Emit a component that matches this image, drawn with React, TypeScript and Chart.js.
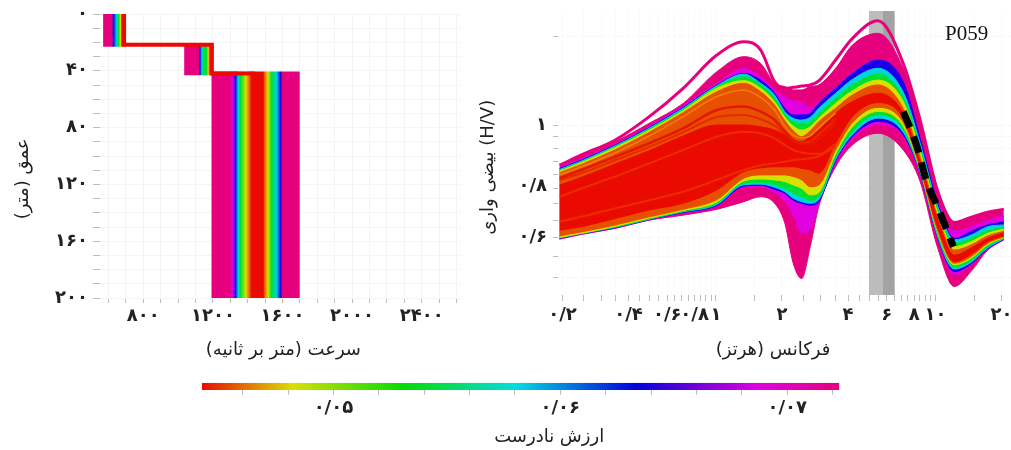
import React, { useEffect, useRef } from "react";
import { Chart, registerables } from "chart.js";

Chart.register(...registerables);

const FONT = '"DejaVu Sans", sans-serif';
const INK = "#222222";
const TICK = "#bdbdbd";
const GRID = "#f4f4f4";

// ---- velocity profile (left)
const velocityTicks = [600, 700, 800, 900, 1000, 1100, 1200, 1300, 1400, 1500, 1600, 1700, 1800, 1900, 2000, 2100, 2200, 2300, 2400, 2500, 2600];
const velocityLabels: Record<number, string> = { 800: "۸۰۰", 1200: "۱۲۰۰", 1600: "۱۶۰۰", 2000: "۲۰۰۰", 2400: "۲۴۰۰" };
const depthTicks = [0, 10, 20, 30, 40, 50, 60, 70, 80, 90, 100, 110, 120, 130, 140, 150, 160, 170, 180, 190, 200];
const depthLabels: Record<number, string> = { 0: "۰", 40: "۴۰", 80: "۸۰", 120: "۱۲۰", 160: "۱۶۰", 200: "۲۰۰" };

const RED = "#ea0a00";
const ORANGE = "#ee6a00";
const YELLOW = "#d8e000";
const GREEN = "#00e030";
const CYAN = "#00d4dc";
const BLUE = "#1a00ea";
const MAGENTA = "#e000e0";
const PINK = "#e6007e";

const layer1Depth = [0, 23];
const layer1Velocity = [569, 619, 628, 647, 657, 670, 676, 701];
const layer1Colors = [PINK, PINK, BLUE, CYAN, GREEN, YELLOW, RED, RED];
const layer2Depth = [22, 43.2];
const layer2Velocity = [1035, 1121, 1125, 1137, 1148, 1164, 1173, 1183, 1198];
const layer2Colors = [PINK, PINK, BLUE, CYAN, GREEN, GREEN, YELLOW, RED, RED];
const layer3Depth = [40.5, 200];
const layer3Velocity = [1192, 1298, 1313, 1330, 1345, 1359, 1389, 1408, 1422, 1489, 1498, 1517, 1536, 1565, 1590, 1600, 1699];
const layer3Colors = [PINK, PINK, MAGENTA, BLUE, CYAN, GREEN, YELLOW, ORANGE, RED, RED, ORANGE, YELLOW, GREEN, CYAN, BLUE, PINK, PINK];
const bestVelocity = [697, 697, 1194, 1194, 1440];
const bestDepth = [21.6, 21.6, 21.6, 41.9, 41.9];

// ---- H/V curves (right)
const freq = [0.194, 0.244, 0.348, 0.497, 0.709, 1.01, 1.34, 1.6, 1.85, 2.06, 2.25, 2.46, 2.69, 2.94, 3.51, 4.19, 5.47, 7.14, 8.52, 10.2, 12.2, 14.5, 17.3, 20.5];
const pinkUp = [.835, .875, .93, 1.011, 1.107, 1.279, 1.37, 1.328, 1.213, 1.195, 1.177, 1.177, 1.195, 1.204, 1.299, 1.445, 1.524, 1.299, 1.018, .74, .641, .655, .671, .681];
const magentaUp = [.829, .86, .92, .998, 1.094, 1.213, 1.299, 1.25, 1.177, 1.14, 1.12, 1.115, 1.085, 1.115, 1.19, 1.275, 1.351, 1.225, .946, .71, .619, .631, .65, .662];
const blueUp = [.823, .855, .916, .992, 1.087, 1.204, 1.269, 1.231, 1.159, 1.082, 1.05, 1.05, 1.058, 1.107, 1.186, 1.269, 1.349, 1.222, .944, .707, .598, .617, .636, .645];
const cyanUp = [.819, .851, .912, .988, 1.082, 1.2, 1.265, 1.213, 1.15, 1.066, 1.034, 1.026, 1.039, 1.082, 1.159, 1.235, 1.299, 1.164, .923, .696, .594, .607, .631, .636];
const greenUp = [.817, .848, .909, .985, 1.077, 1.195, 1.25, 1.204, 1.133, 1.055, 1.018, 1.011, 1.018, 1.058, 1.133, 1.204, 1.265, 1.138, .906, .686, .585, .598, .619, .629];
const yellowUp = [.813, .845, .905, .979, 1.071, 1.187, 1.228, 1.186, 1.116, 1.039, .998, .98, .995, 1.034, 1.107, 1.173, 1.231, 1.116, .888, .676, .576, .589, .612, .624];
const orangeUp = [.807, .838, .896, .97, 1.061, 1.167, 1.213, 1.167, 1.099, 1.023, .977, .951, .977, 1.018, 1.082, 1.15, 1.204, 1.082, .868, .665, .567, .58, .605, .618];
const redUp = [.763, .79, .84, .892, .954, 1.003, 1.003, .995, .98, .958, .937, .93, .951, .98, 1.058, 1.116, 1.159, 1.058, .848, .655, .554, .572, .598, .614];
const pinkLow = [.596, .609, .626, .65, .665, .683, .707, .723, .702, .641, .534, .498, .576, .691, .829, .916, .966, .895, .775, .576, .48, .514, .567, .594];
const magentaLow = [.597, .61, .627, .651, .671, .693, .755, .755, .737, .707, .665, .612, .621, .699, .842, .939, 1.008, .951, .802, .601, .506, .53, .569, .595];
const blueLow = [.598, .611, .628, .652, .673, .695, .759, .762, .748, .735, .712, .702, .696, .707, .852, .951, 1.02, .958, .807, .603, .514, .532, .571, .596];
const cyanLow = [.599, .612, .629, .653, .675, .698, .764, .766, .755, .74, .718, .707, .702, .714, .858, .961, 1.035, .97, .811, .607, .52, .536, .573, .597];
const greenLow = [.6, .613, .63, .654, .677, .702, .77, .773, .763, .751, .735, .723, .712, .723, .866, .973, 1.051, .983, .815, .612, .525, .54, .577, .599];
const yellowLow = [.601, .612, .632, .656, .679, .706, .777, .784, .781, .775, .763, .751, .729, .737, .879, .995, 1.067, .998, .819, .618, .53, .546, .581, .601];
const orangeLow = [.605, .616, .636, .66, .683, .714, .787, .799, .799, .799, .793, .781, .757, .763, .895, 1.014, 1.087, 1.014, .824, .623, .534, .55, .585, .603];
const redLow = [.621, .631, .655, .681, .702, .746, .811, .825, .829, .829, .829, .823, .817, .805, .923, 1.042, 1.111, 1.034, .832, .631, .538, .556, .589, .605];
const outlierCurve = [.835, .875, .937, 1.042, 1.186, 1.38, 1.467, 1.412, 1.222, 1.186, 1.191, 1.198, 1.204, 1.226, 1.349, 1.489, 1.614, 1.328, 1.026, .746, .643, .658, .674, .683];
const streakA = [.646, .66, .686, .712, .74, .781, .817, .835, .842, .848, .855, .858, .862, .87, .91];
const streakB = [.723, .751, .793, .842, .895, .951, .973, .966, .944, .916, .895, .885, .88, .88, .92];
const streakC = [.787, .817, .868, .923, .988, 1.074, 1.091, 1.066, 1.026, .973, .937, .92, .92, .94, 1.01];
const streakD = [.799, .829, .884, .954, 1.042, 1.142, 1.177, 1.138, 1.074, .998, .958, .945, .955, .99, 1.06];
const streakE = [.78, .805, .855, .908, .97, 1.04, 1.05, 1.03, 1.0, .965, .935, .925, .93, .96, 1.03];
const targetFreq = [7.14, 8.2, 9.12, 10.29, 12.08];
const targetHV = [1.066, .916, .775, .686, .576];
const lightBand = [4.98, 6.51];
const darkBand = [5.77, 6.51];
const freqTicks = [.2, .25, .3, .35, .4, .45, .5, .55, .6, .65, .7, .75, .8, .85, .9, .95, 1, 1.5, 2, 2.5, 3, 3.5, 4, 4.5, 5, 5.5, 6, 6.5, 7, 7.5, 8, 8.5, 9, 9.5, 10, 15, 20];
const freqLabels: Record<string, string> = { "0.2": "۰/۲", "0.4": "۰/۴", "0.6": "۰/۶", "0.8": "۰/۸", "1": "۱", "2": "۲", "4": "۴", "6": "۶", "8": "۸", "10": "۱۰", "20": "۲۰" };
const hvTicks = [1.5, 1, .95, .9, .85, .8, .76, .75, .7, .65, .6, .55, .5];
const hvLabels: Record<string, string> = { "1": "۱", "0.76": "۰/۸", "0.6": "۰/۶" };
const hvLabelOnly = 0.76;

// ---- colour bar
const misfitTicks = [.046, .048, .05, .052, .054, .056, .058, .06, .062, .064, .066, .068, .07, .072];
const misfitLabels: Record<string, string> = { "0.05": "۰/۰۵", "0.06": "۰/۰۶", "0.07": "۰/۰۷" };
const misfitStops = [.0442, .0482, .0531, .058, .0633, .0687, .0723];
const misfitColors = [RED, YELLOW, "#00dd00", "#00dde0", "#0000dd", "#e000e0", PINK];

const titleFont = { family: FONT, size: 18 };
const tickFont = { family: FONT, size: 18, weight: "bold" as const };
const NB = "\u00A0";
const RLM = "\u200F";

function gradientOf(stops: number[], colors: string[]) {
  return (ctx: any) => {
    const { chart } = ctx;
    const x = chart.scales?.x;
    if (!x || !chart.chartArea) return colors[0];
    const a = x.getPixelForValue(stops[0]);
    const b = x.getPixelForValue(stops[stops.length - 1]);
    const g = chart.ctx.createLinearGradient(a, 0, b, 0);
    stops.forEach((s, i) => g.addColorStop((x.getPixelForValue(s) - a) / (b - a), colors[i]));
    return g;
  };
}

function rect(x: number[], y: number[], backgroundColor: any) {
  return {
    type: "line" as const,
    data: [
      { x: x[0], y: y[0] }, { x: x[1], y: y[0] }, { x: x[1], y: y[1] }, { x: x[0], y: y[1] }, { x: x[0], y: y[0] },
    ],
    fill: "shape",
    backgroundColor,
    borderWidth: 0,
    pointRadius: 0,
    tension: 0,
  };
}

const curve = (values: number[], color: string, width: number, fill: any = false, xs: number[] = freq) => ({
  type: "line" as const,
  data: values.map((y, i) => ({ x: xs[i], y })),
  borderColor: color,
  backgroundColor: color,
  borderWidth: width,
  pointRadius: 0,
  cubicInterpolationMode: "monotone" as const,
  fill,
});

const levelRows: [number[], number[], string][] = [
  [redUp, redLow, RED],
  [orangeUp, orangeLow, "#e65000"],
  [yellowUp, yellowLow, YELLOW],
  [greenUp, greenLow, GREEN],
  [cyanUp, cyanLow, CYAN],
  [blueUp, blueLow, BLUE],
  [magentaUp, magentaLow, MAGENTA],
  [pinkUp, pinkLow, PINK],
];

const base: any = {
  responsive: false,
  animation: false,
  events: [],
  plugins: { legend: { display: false }, tooltip: { enabled: false } },
};

function makeTicks(list: number[]) {
  return (scale: any) => {
    scale.ticks = list.map((value) => ({ value }));
  };
}

const fixHeight = (h: number) => (s: any) => {
  s.height = h;
  s.paddingLeft = 0;
  s.paddingRight = 0;
};
const fixWidth = (w: number) => (s: any) => {
  s.width = w;
  s.paddingTop = 0;
  s.paddingBottom = 0;
};

function leftChart(c: HTMLCanvasElement) {
  return new Chart(c, {
    type: "line",
    data: {
      datasets: [
        { type: "line", data: bestVelocity.map((x, i) => ({ x, y: bestDepth[i] })), borderColor: RED, borderWidth: 4, pointRadius: 0, tension: 0, borderJoinStyle: "miter" } as any,
        rect([layer1Velocity[0], layer1Velocity[7]], layer1Depth, gradientOf(layer1Velocity, layer1Colors)) as any,
        rect([layer2Velocity[0], layer2Velocity[8]], layer2Depth, gradientOf(layer2Velocity, layer2Colors)) as any,
        rect([layer3Velocity[0], layer3Velocity[16]], layer3Depth, gradientOf(layer3Velocity, layer3Colors)) as any,
      ],
    },
    options: {
      ...base,
      layout: { padding: { top: 14, right: 19, left: 0, bottom: 0 } },
      scales: {
        x: {
          type: "linear", min: 551, max: 2626,
          afterBuildTicks: makeTicks(velocityTicks),
          afterFit: fixHeight(72),
          border: { display: false },
          grid: { color: GRID, tickColor: TICK, tickLength: 5 },
          ticks: { autoSkip: false, maxRotation: 0, color: INK, font: tickFont, padding: 3, callback: (v: any) => velocityLabels[v] ?? "" },
          title: { display: true, text: `${NB}${RLM}سرعت (متر بر ثانیه)${RLM}`, color: INK, font: titleFont, padding: { top: 0, bottom: 9 } },
        },
        y: {
          type: "linear", reverse: true, min: 0, max: 200,
          afterBuildTicks: makeTicks(depthTicks),
          afterFit: fixWidth(100),
          border: { display: false },
          grid: { color: GRID, tickColor: TICK, tickLength: 7 },
          ticks: { autoSkip: false, color: INK, font: tickFont, padding: 5, callback: (v: any) => depthLabels[v] ?? "" },
          title: { display: true, text: `${RLM}عمق (متر)${RLM}${NB}${NB}${NB}${NB}${NB}${NB}${NB}${NB}`, color: INK, font: titleFont, padding: { top: 13, bottom: 13 } },
        },
      },
    } as any,
  });
}

function rightChart(c: HTMLCanvasElement) {
  const datasets: any[] = [];
  const dash = curve(targetHV, "#000000", 7, false, targetFreq) as any;
  dash.borderDash = [17, 10];
  dash.borderCapStyle = "butt";
  datasets.push(dash);
  datasets.push(curve(streakD, "#ee8010", 1.5));
  datasets.push(curve(streakC, "#e41800", 2.5));
  datasets.push(curve(streakE, "#ea2800", 2));
  datasets.push(curve(streakB, "#ec2c00", 2));
  datasets.push(curve(streakA, "#ec2c00", 2));
  levelRows.forEach(([up, low, color]) => {
    datasets.push(curve(up, color, 1, "+1"));
    datasets.push(curve(low, color, 1));
  });
  datasets.push(curve(outlierCurve, PINK, 3));
  datasets.push(rect(darkBand, [0.462, 1.687], "#a3a3a3"));
  datasets.push(rect(lightBand, [0.462, 1.687], "#bcbcbc"));
  return new Chart(c, {
    type: "line",
    data: { datasets },
    options: {
      ...base,
      layout: { padding: { top: 11, right: 0, left: 0, bottom: 0 } },
      scales: {
        x: {
          type: "logarithmic", min: 0.1908, max: 22.1,
          afterBuildTicks: makeTicks(freqTicks),
          afterFit: fixHeight(75),
          border: { display: false },
          grid: { color: "#fafafa", tickColor: TICK, tickLength: 6 },
          ticks: { autoSkip: false, maxRotation: 0, minRotation: 0, color: INK, font: tickFont, padding: 4, callback: (v: any) => freqLabels[String(v)] ?? "" },
          title: { display: true, text: `${RLM}فرکانس (هرتز)${RLM}${NB}${NB}${NB}${NB}`, color: INK, font: titleFont, padding: { top: 0, bottom: 9 } },
        },
        y: {
          type: "logarithmic", min: 0.462, max: 1.687,
          afterBuildTicks: makeTicks(hvTicks),
          afterFit: fixWidth(88),
          border: { display: false },
          grid: {
            color: (ctx: any) => (ctx.tick?.value === hvLabelOnly ? "rgba(0,0,0,0)" : "#f8f8f8"),
            tickColor: (ctx: any) => (ctx.tick?.value === hvLabelOnly ? "rgba(0,0,0,0)" : TICK),
            tickLength: 5,
          },
          ticks: { autoSkip: false, color: INK, font: tickFont, padding: 6, callback: (v: any) => hvLabels[String(v)] ?? "" },
          title: { display: true, text: `${RLM}بیضی واری (H/V)${RLM}${NB}${NB}${NB}${NB}${NB}`, color: INK, font: titleFont, padding: { top: 8, bottom: 8 } },
        },
      },
    } as any,
  });
}

function barChart(c: HTMLCanvasElement) {
  return new Chart(c, {
    type: "line",
    data: { datasets: [rect([misfitStops[0], misfitStops[6]], [0, 1], gradientOf(misfitStops, misfitColors)) as any] },
    options: {
      ...base,
      layout: { padding: { top: 7.7, left: 11.8, right: 10.6, bottom: 0 } },
      scales: {
        x: {
          type: "linear", min: misfitStops[0], max: misfitStops[6],
          afterBuildTicks: makeTicks(misfitTicks),
          afterFit: fixHeight(60),
          border: { display: false },
          grid: { drawOnChartArea: false, tickColor: TICK, tickLength: 5 },
          ticks: { autoSkip: false, maxRotation: 0, color: INK, font: tickFont, padding: 3, callback: (v: any) => misfitLabels[String(v)] ?? "" },
          title: { display: true, text: `${NB.repeat(10)}${RLM}ارزش نادرست${RLM}`, color: INK, font: titleFont, padding: { top: 0, bottom: 2 } },
        },
        y: { type: "linear", min: 0, max: 1, display: false },
      },
    } as any,
  });
}

export default function App() {
  const a = useRef<HTMLCanvasElement>(null);
  const b = useRef<HTMLCanvasElement>(null);
  const c = useRef<HTMLCanvasElement>(null);
  useEffect(() => {
    const charts = [leftChart(a.current!), rightChart(b.current!), barChart(c.current!)];
    return () => charts.forEach((ch) => ch.destroy());
  }, []);
  const abs = (left: number, top: number): React.CSSProperties => ({ position: "absolute", left, top, display: "block" });
  return (
    <div style={{ position: "fixed", left: 0, top: 0, width: 1011, height: 450, overflow: "hidden", background: "#fff", filter: "blur(0.5px)" }}>
      <canvas ref={a} width={480} height={370} style={abs(0, 0)} />
      <canvas ref={b} width={541} height={370} style={abs(470, 0)} />
      <canvas ref={c} width={660} height={75} style={abs(190, 375)} />
      <div style={{ position: "absolute", left: 945, top: 21, font: '21px "Liberation Serif", serif', color: "#111" }}>P059</div>
    </div>
  );
}
